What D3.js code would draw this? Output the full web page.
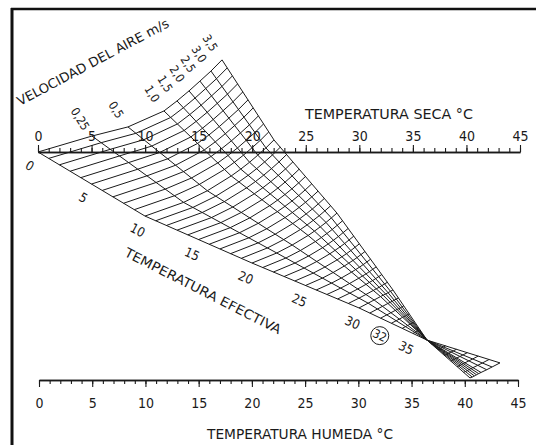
<!DOCTYPE html>
<html>
<head>
<meta charset="utf-8">
<script src="https://cdn.jsdelivr.net/npm/d3@7"></script>
<style>
  body { margin: 0; background: #fff; }
  text { font-family: 'DejaVu Sans Condensed', 'DejaVu Sans', sans-serif; fill: #1a1a1a; }
</style>
</head>
<body>
<div id="chart"></div>
<script>
// scales of the nomogram
const dryTicks = d3.range(0, 46)
const wetTicks = d3.range(0, 46)
const majorTicks = d3.range(0, 50, 5)

// air velocity curves (m/s) and effective temperature grid
const velLabels = ['0', '0,25', '0,5', '1,0', '1,5', '2,0', '2,5', '3,0', '3,5']
const etKeys = [0, 10, 20, 30, 36.3, 43]
// position of each velocity curve at the etKeys, x read on the dry scale (°C),
// y as fraction of the distance dry scale -> wet scale
const velX = [
    [0, 9.99, 19.98, 29.97, 36.32, 43.13],
    [5.04, 13.59, 22.29, 30.82, 36.32, 42.39],
    [8.40, 15.81, 23.73, 31.38, 36.32, 41.89],
    [11.76, 18.04, 25.22, 31.98, 36.32, 41.36],
    [12.98, 18.93, 25.81, 32.22, 36.32, 41.14],
    [14.10, 19.75, 26.36, 32.46, 36.32, 40.94],
    [15.12, 20.52, 26.89, 32.68, 36.32, 40.74],
    [16.15, 21.28, 27.39, 32.91, 36.32, 40.54],
    [17.18, 22.03, 27.91, 33.14, 36.32, 40.33]
]
const velY = [
    [0, 0.281, 0.487, 0.684, 0.825, 0.925],
    [-0.070, 0.221, 0.443, 0.663, 0.825, 0.943],
    [-0.110, 0.170, 0.408, 0.649, 0.825, 0.955],
    [-0.180, 0.105, 0.366, 0.634, 0.825, 0.967],
    [-0.224, 0.075, 0.347, 0.628, 0.825, 0.972],
    [-0.268, 0.045, 0.328, 0.623, 0.825, 0.977],
    [-0.311, 0.014, 0.309, 0.617, 0.825, 0.982],
    [-0.355, -0.018, 0.289, 0.611, 0.825, 0.987],
    [-0.404, -0.053, 0.268, 0.605, 0.825, 0.991]
]
const etLines = d3.range(0, 44)
const etLabels = [0, 5, 10, 15, 20, 25, 30, 35]
const etMarked = 32

const width = 536, height = 445
const ink = '#1a1a1a'

const svg = d3.select('#chart').append('svg')
    .attr('width', width)
    .attr('height', height)

const xTop = d3.scaleLinear().domain([0, 45]).range([38, 520])
const xBot = d3.scaleLinear().domain([0, 45]).range([39, 518])
const yFrac = d3.scaleLinear().domain([0, 1]).range([152, 380])

// frame
svg.append('line').attr('x1', 12).attr('y1', 8).attr('x2', 12).attr('y2', height)
    .style('stroke', '#111').style('stroke-width', 3)
svg.append('line').attr('x1', 11).attr('y1', 9).attr('x2', width).attr('y2', 9)
    .style('stroke', '#111').style('stroke-width', 2.5)

// one scale per velocity curve : ET -> [px, py]
// (the array interpolator reuses its output, so copy every result)
const velScales = velX.map((row, j) => {
    const s = d3.scaleLinear()
        .domain(etKeys)
        .range(row.map((x, i) => [xTop(x), yFrac(velY[j][i])]))
    return t => s(t).slice()
})

const line = d3.line()
const mesh = svg.append('g')
    .style('fill', 'none')
    .style('stroke', ink)
    .style('stroke-width', 1)

mesh.selectAll('.vel').data(velScales).join('path')
    .attr('class', 'vel')
    .attr('d', s => line(etKeys.map(s)))

mesh.selectAll('.et').data(etLines).join('path')
    .attr('class', 'et')
    .attr('d', t => line(velScales.map(s => s(t))))

// top axis : temperatura seca
const topG = svg.append('g').attr('transform', 'translate(0,152)')
topG.append('g').call(d3.axisTop(xTop).tickValues(dryTicks).tickSize(4).tickSizeOuter(0).tickFormat(''))
topG.append('g').call(d3.axisTop(xTop).tickValues(majorTicks).tickSize(7).tickPadding(4).tickSizeOuter(0))
topG.selectAll('.domain').style('stroke', ink).style('stroke-width', 1.3)
topG.selectAll('.tick line').style('stroke', ink).style('stroke-width', 1.1)
topG.selectAll('.tick text').style('font-size', '14px').style('font-family', null)

// bottom axis : temperatura humeda
const botG = svg.append('g').attr('transform', 'translate(0,380)')
botG.append('g').call(d3.axisBottom(xBot).tickValues(wetTicks).tickSize(4).tickSizeOuter(0).tickFormat(''))
botG.append('g').call(d3.axisBottom(xBot).tickValues(majorTicks).tickSize(7).tickPadding(11).tickSizeOuter(0))
botG.selectAll('.domain').style('stroke', ink).style('stroke-width', 1.3)
botG.selectAll('.tick line').style('stroke', ink).style('stroke-width', 1.1)
botG.selectAll('.tick text').style('font-size', '14px').style('font-family', null)

// titles
svg.append('text')
    .attr('x', 305).attr('y', 119)
    .attr('textLength', 168).attr('lengthAdjust', 'spacingAndGlyphs')
    .style('font-size', '14px')
    .text('TEMPERATURA SECA °C')

svg.append('text')
    .attr('x', 207).attr('y', 439)
    .attr('textLength', 186).attr('lengthAdjust', 'spacingAndGlyphs')
    .style('font-size', '14px')
    .text('TEMPERATURA HUMEDA °C')

svg.append('text')
    .attr('transform', 'translate(20,106) rotate(-28)')
    .attr('textLength', 170).attr('lengthAdjust', 'spacingAndGlyphs')
    .style('font-size', '13px')
    .text('VELOCIDAD DEL AIRE  m/s')

svg.append('text')
    .attr('transform', 'translate(203,291) rotate(27)')
    .attr('text-anchor', 'middle')
    .attr('dominant-baseline', 'central')
    .attr('textLength', 174).attr('lengthAdjust', 'spacingAndGlyphs')
    .style('font-size', '13px')
    .text('TEMPERATURA EFECTIVA')

// effective temperature labels along the still air curve
const still = velScales[0]
function etPlace (t) {
    const a = still(Math.max(0, t - 0.5)), b = still(t + 0.5)
    const dx = b[0] - a[0], dy = b[1] - a[1], len = Math.hypot(dx, dy)
    const p = still(t)
    return {
        x: p[0] - dy / len * 16,
        y: p[1] + dx / len * 16,
        r: Math.atan2(dy, dx) * 180 / Math.PI
    }
}

svg.selectAll('.etlab').data(etLabels).join('text')
    .attr('class', 'etlab')
    .attr('transform', t => { const q = etPlace(t); return `translate(${q.x},${q.y}) rotate(${q.r})` })
    .attr('text-anchor', 'middle')
    .attr('dominant-baseline', 'central')
    .style('font-size', '13px')
    .text(t => t)

const m = etPlace(etMarked)
const mg = svg.append('g').attr('transform', `translate(${m.x + 6},${m.y + 3})`)
mg.append('circle').attr('r', 9).style('fill', 'none').style('stroke', ink).style('stroke-width', 1)
mg.append('text')
    .attr('transform', `rotate(${m.r})`)
    .attr('text-anchor', 'middle')
    .attr('dominant-baseline', 'central')
    .style('font-size', '12px')
    .text(etMarked)

// velocity labels at the start of each curve
svg.selectAll('.vlab').data(velScales.slice(1)).join('text')
    .attr('class', 'vlab')
    .attr('transform', s => { const p = s(0); return `translate(${p[0] - 12},${p[1] - 17}) rotate(58)` })
    .attr('text-anchor', 'middle')
    .attr('dominant-baseline', 'central')
    .style('font-size', '12px')
    .text((s, i) => velLabels[i + 1])
</script>
</body>
</html>
